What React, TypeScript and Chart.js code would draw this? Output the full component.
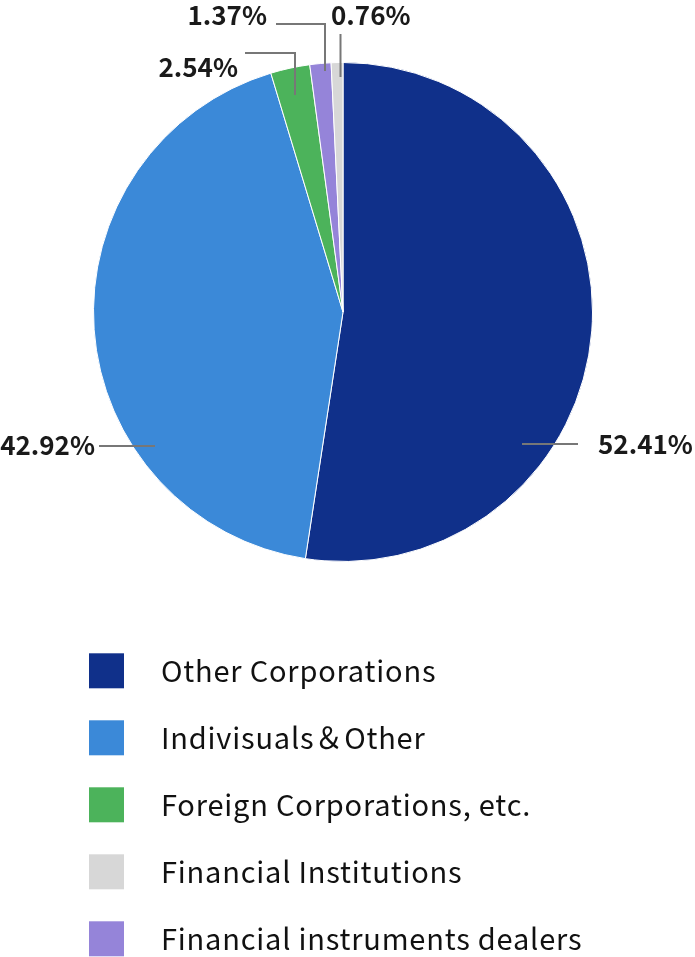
import React, { useEffect, useRef } from "react";
import { Chart, registerables } from "chart.js";

Chart.register(...registerables);

const categories = [
  "Other Corporations",
  "Indivisuals＆Other",
  "Foreign Corporations, etc.",
  "Financial instruments dealers",
  "Financial Institutions",
];
const shares = [52.41, 42.92, 2.54, 1.37, 0.76];
const valueLabels = ["52.41%", "42.92%", "2.54%", "1.37%", "0.76%"];
const legendOrder = [0, 1, 2, 4, 3];
const colors = ["#10308a", "#3b89d8", "#4cb35b", "#9584d9", "#d7d7d7"];

// label layout: offsets from pie centre (px)
const labelLayout = [
  { tx: 255, ty: 132, align: "left", pts: [[179, 132], [235, 132]] },
  { tx: -248, ty: 133, align: "right", pts: [[-188, 134], [-244, 134]] },
  { tx: -105, ty: -245, align: "right", pts: [[-48, -217], [-48, -259], [-98, -259]] },
  { tx: -76, ty: -297, align: "right", pts: [[-18, -241], [-18, -288], [-67, -288]] },
  { tx: -12, ty: -297, align: "left", pts: [[-2.5, -235], [-2.5, -278]] },
];

const FONT = '"Noto Sans CJK JP", "Noto Sans", sans-serif';

const overlayPlugin = {
  id: "overlay",
  afterDraw(chart: any) {
    const ctx = chart.ctx as CanvasRenderingContext2D;
    const meta = chart.getDatasetMeta(0);
    const arc0 = meta.data[0];
    const cx = arc0.x;
    const cy = arc0.y;
    ctx.save();
    // leader lines and value labels
    labelLayout.forEach((l, i) => {
      ctx.strokeStyle = "#777777";
      ctx.lineWidth = 2;
      ctx.beginPath();
      l.pts.forEach((p, j) => {
        if (j === 0) ctx.moveTo(cx + p[0], cy + p[1]);
        else ctx.lineTo(cx + p[0], cy + p[1]);
      });
      ctx.stroke();
      ctx.fillStyle = "#1a1a1a";
      ctx.font = `bold 26px ${FONT}`;
      ctx.textAlign = l.align as CanvasTextAlign;
      ctx.textBaseline = "middle";
      ctx.fillText(valueLabels[i], cx + l.tx, cy + l.ty);
    });
    // legend
    const startY = 670.8;
    const step = 67;
    legendOrder.forEach((idx, k) => {
      const y = startY + k * step;
      ctx.fillStyle = colors[idx];
      ctx.fillRect(89, y - 17.5, 35, 35);
      ctx.fillStyle = "#111111";
      ctx.font = `29px ${FONT}`;
      (ctx as any).letterSpacing = "0.8px";
      ctx.textAlign = "left";
      ctx.textBaseline = "alphabetic";
      ctx.fillText(categories[idx], 161, y + 11);
      (ctx as any).letterSpacing = "0px";
    });
    ctx.restore();
  },
};

export default function App() {
  const ref = useRef<HTMLCanvasElement | null>(null);
  useEffect(() => {
    document.body.style.margin = "0";
    if (!ref.current) return;
    const chart = new Chart(ref.current, {
      type: "pie",
      data: {
        labels: categories,
        datasets: [
          {
            data: shares,
            backgroundColor: colors,
            borderColor: "#ffffff",
            borderWidth: 1,
          },
        ],
      },
      options: {
        animation: false,
        responsive: true,
        maintainAspectRatio: false,
        layout: { padding: { left: 93, right: 102, top: 62, bottom: 395 } },
        plugins: { legend: { display: false }, tooltip: { enabled: false } },
      },
      plugins: [overlayPlugin],
    });
    return () => chart.destroy();
  }, []);
  return (
    <div style={{ position: "absolute", left: 0, top: 0, width: 695, height: 957 }}>
      <canvas ref={ref} />
    </div>
  );
}
